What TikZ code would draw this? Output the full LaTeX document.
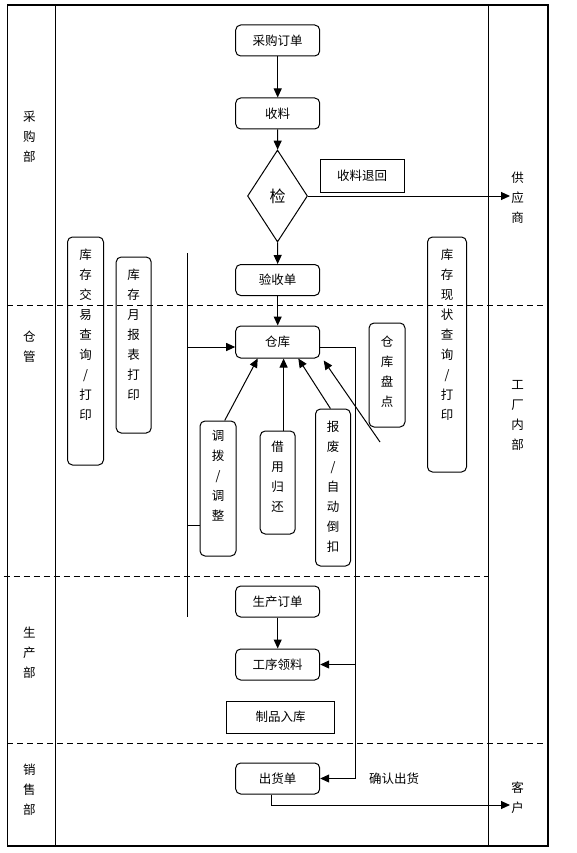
\documentclass[tikz,border=0pt]{standalone}
\usepackage{fontspec}
\newfontfamily\cjk{Noto Sans CJK SC}
\usetikzlibrary{arrows.meta,shapes.geometric}
\begin{document}
\begin{tikzpicture}[x=1pt,y=-1pt,
  every node/.style={font=\cjk\fontsize{12.5}{20}\selectfont},
  hbox/.style={draw,rounded corners=5pt,minimum width=84pt,minimum height=31pt,inner sep=0pt,line width=1pt},
  vbox/.style={draw,rounded corners=5pt,inner sep=0pt,line width=1pt},
  rbox/.style={draw,minimum height=32pt,inner sep=0pt,line width=1pt},
  vtext/.style={anchor=north,align=center,inner sep=0pt},
  lane/.style={align=center,inner sep=0pt},
  conn/.style={line width=1pt},
  arr/.style={conn,-{Triangle[length=9pt,width=8pt]}},
  lanedash/.style={line width=1pt,dash pattern=on 6pt off 4pt}
]
\useasboundingbox (0,0) rectangle (577,853);
% frame and lanes
\draw[line width=1.2pt] (7.4,5) rectangle (548,846);
\draw[line width=1pt] (55.2,5) -- (55.2,846);
\draw[line width=1pt] (488,5) -- (488,846);
\draw[lanedash] (7.4,305) -- (548,305);
\draw[lanedash] (3.7,576) -- (488,576);
\draw[lanedash] (7.4,743) -- (548,743);
% lane labels
\node[lane] (l1) at (29.5,137) {采\\购\\部};
\node[lane] (l2) at (29.5,347) {仓\\管};
\node[lane] (l3) at (29.5,653) {生\\产\\部};
\node[lane] (l4) at (29.5,790) {销\\售\\部};
\node[lane] (r1) at (517.5,198) {供\\应\\商};
\node[lane] (r2) at (517.5,415) {工\\厂\\内\\部};
\node[lane] (r3) at (517.5,797.5) {客\\户};
% main nodes
\node[hbox] (po) at (277.7,40.5) {采购订单};
\node[hbox] (sl) at (277.7,113.5) {收料};
\node[draw,diamond,minimum width=60pt,minimum height=92pt,inner sep=0pt,line width=1pt,font=\cjk\fontsize{16}{20}\selectfont] (jian) at (277.5,196) {检};
\node[rbox,minimum width=84pt] (th) at (362,176) {收料退回};
\node[hbox] (ys) at (277.7,280) {验收单};
\node[hbox,minimum height=32pt] (ck) at (277.7,342) {仓库};
\node[hbox] (sc) at (277.7,601.5) {生产订单};
\node[hbox] (gx) at (277.7,664.5) {工序领料};
\node[rbox,minimum width=108pt] (zp) at (280.5,717) {制品入库};
\node[hbox] (ch) at (277.7,778.5) {出货单};
\node[inner sep=0pt] (qr) at (394,779) {确认出货};
% vertical boxes
\node[vbox,minimum width=36pt,minimum height=228pt] (kjy) at (85.5,351) {};
\node[vtext] at ([yshift=-12pt]kjy.north) {库\\存\\交\\易\\查\\询\\/\\打\\印};
\node[vbox,minimum width=35pt,minimum height=176pt] (kyb) at (133.7,345) {};
\node[vtext] at ([yshift=-12pt]kyb.north) {库\\存\\月\\报\\表\\打\\印};
\node[vbox,minimum width=39pt,minimum height=235pt] (kxz) at (447,354.5) {};
\node[vtext] at ([yshift=-12pt]kxz.north) {库\\存\\现\\状\\查\\询\\/\\打\\印};
\node[vbox,minimum width=36pt,minimum height=104pt] (ckpd) at (387,375) {};
\node[vtext] at ([yshift=-13pt]ckpd.north) {仓\\库\\盘\\点};
\node[vbox,minimum width=36pt,minimum height=135pt] (tb) at (218,488.5) {};
\node[vtext] at ([yshift=-10pt]tb.north) {调\\拨\\/\\调\\整};
\node[vbox,minimum width=35pt,minimum height=103pt] (jy) at (277.7,482.5) {};
\node[vtext] at ([yshift=-10pt]jy.north) {借\\用\\归\\还};
\node[vbox,minimum width=35pt,minimum height=157pt] (bf) at (333,487.5) {};
\node[vtext] at ([yshift=-12pt]bf.north) {报\\废\\/\\自\\动\\倒\\扣};
% coordinates
\coordinate (sup) at (510,196);
\coordinate (lt) at (187,253);
\coordinate (lb) at (187,617);
\coordinate (rb) at (355.4,778.5);
\coordinate (cu) at (510,805);
\coordinate (pd) at (380,442);
% connectors
\draw[arr] (po) -- (sl);
\draw[arr] (sl) -- (jian);
\draw[arr] (jian) -- (ys);
\draw[arr] (ys) -- (ck);
\draw[arr] (jian.east) -- (sup);
\draw[conn] (lt) -- (lb);
\draw[arr] ([yshift=-5pt]ck.west -| lt) -- ([yshift=-5pt]ck.west);
\draw[conn] ([yshift=-36.5pt]tb.west -| lt) -- ([yshift=-36.5pt]tb.west);
\draw[arr] ([yshift=-5pt]ck.east) -| (rb) -- (ch.east);
\draw[arr] (gx.east -| rb) -- (gx.east);
\draw[arr] (sc) -- (gx);
\draw[arr] ([xshift=-6pt]ch.south) |- (cu);
\draw[arr] ([xshift=6.7pt]tb.north) -- ([xshift=-20pt]ck.south);
\draw[arr] ([xshift=5.9pt]jy.north) -- ([xshift=5.9pt]ck.south);
\draw[arr] ([xshift=-2.6pt]bf.north) -- ([xshift=20.6pt]ck.south);
\draw[arr] (pd) -- ([xshift=3.5pt,yshift=-2pt]ck.south east);
\end{tikzpicture}
\end{document}
